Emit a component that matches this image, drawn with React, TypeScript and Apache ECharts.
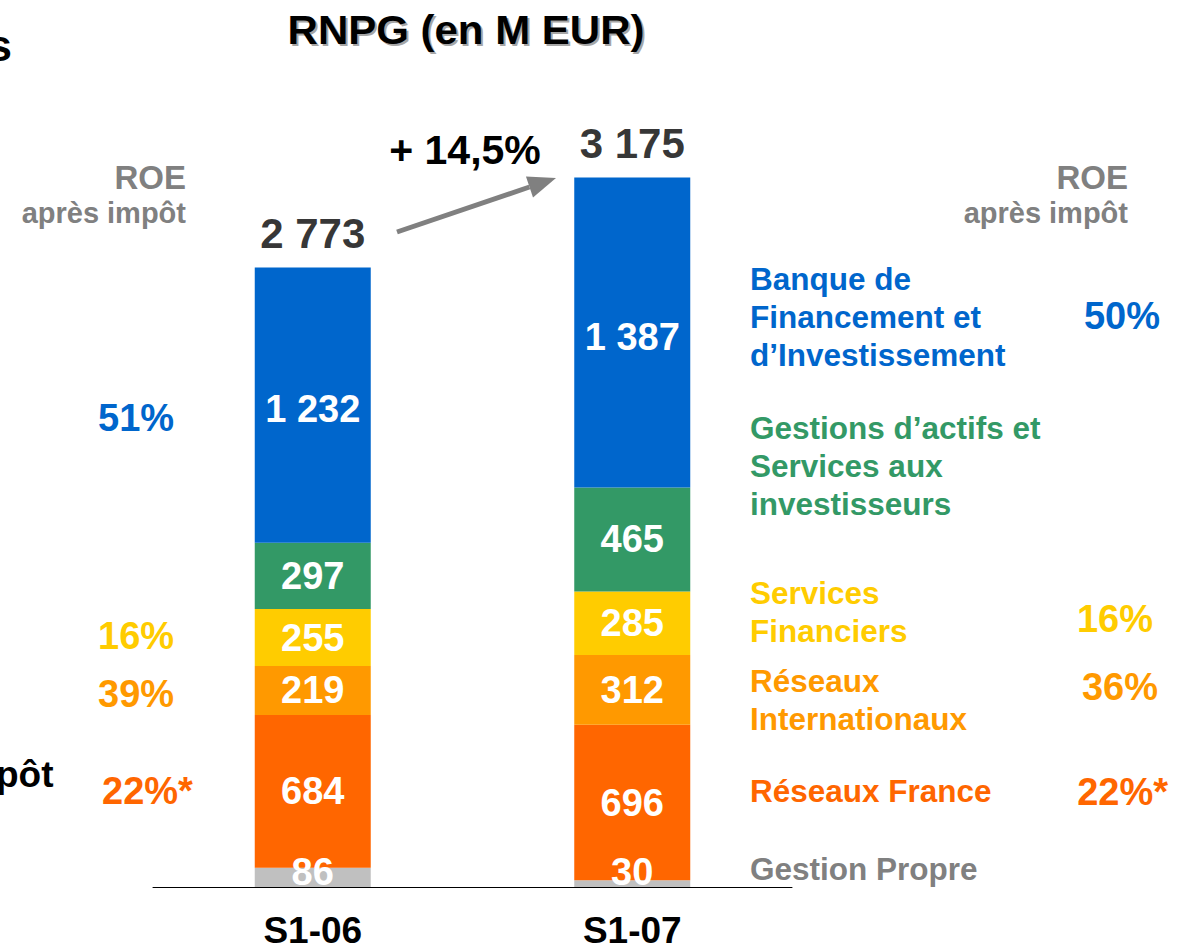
import React, { useEffect, useRef } from "react";
import * as echarts from "echarts";

const categories = ["S1-06", "S1-07"];
const gestionPropre = [86, 30];
const reseauxFrance = [684, 696];
const reseauxInternationaux = [219, 312];
const servicesFinanciers = [255, 285];
const gestionsActifs = [297, 465];
const banqueFinancement = [1232, 1387];
const roeLeft = ["51%", "16%", "39%", "22%*"];
const roeRight = ["50%", "16%", "36%", "22%*"];
const growthLabel = "+ 14,5%";

const FONT = "Liberation Sans";
const C_BLUE = "#0066CC";
const C_GREEN = "#339966";
const C_YELLOW = "#FFCC00";
const C_ORANGE = "#FF9900";
const C_DORANGE = "#FF6600";
const C_GRAY = "#C0C0C0";
const C_TXTGRAY = "#808080";

function txt(text: string, x: number, y: number, size: number, fill: string, align = "left", extra: any = {}, el: any = {}) {
  return {
    type: "text",
    x,
    y,
    silent: true,
    ...el,
    style: {
      text,
      fill,
      fontSize: size,
      fontWeight: "bold",
      fontFamily: FONT,
      align,
      verticalAlign: "middle",
      ...extra,
    },
  };
}

const fmt = (v: number) => String(v).replace(/\B(?=(\d{3})+(?!\d))/g, " ");

export default function App() {
  const ref = useRef<HTMLDivElement>(null);
  useEffect(() => {
    if (!ref.current) return;
    const chart = echarts.init(ref.current, undefined, { renderer: "svg" });
    const totals = categories.map((_, i) =>
      gestionPropre[i] + reseauxFrance[i] + reseauxInternationaux[i] + servicesFinanciers[i] + gestionsActifs[i] + banqueFinancement[i]
    );
    const lbl = {
      show: true,
      color: "#fff",
      fontSize: 38,
      fontWeight: "bold",
      fontFamily: FONT,
      formatter: (p: any) => fmt(p.value),
    };
    const mk = (name: string, data: number[], color: string, label: any = lbl) => ({
      name,
      type: "bar",
      stack: "rnpg",
      data,
      barWidth: 116,
      itemStyle: { color },
      label,
    });

    // arrow geometry
    const ax0 = 397, ay0 = 232, tipX = 556, tipY = 178;
    const dx = tipX - ax0, dy = tipY - ay0;
    const len = Math.sqrt(dx * dx + dy * dy);
    const ux = dx / len, uy = dy / len;
    const nx = -uy, ny = ux;
    const hl = 28, hw = 11;
    const bx = tipX - hl * ux, by = tipY - hl * uy;

    chart.setOption({
      animation: false,
      backgroundColor: "#ffffff",
      grid: { left: 153, right: 393, top: 105, bottom: 61 },
      xAxis: {
        type: "category",
        data: categories,
        axisLine: { show: true, lineStyle: { color: "#000", width: 1 } },
        axisTick: { show: false },
        axisLabel: { color: "#000", fontSize: 37, fontWeight: "bold", fontFamily: FONT, margin: 25 },
      },
      yAxis: { type: "value", min: 0, max: 3500, show: false, splitLine: { show: false } },
      series: [
        mk("Gestion Propre", gestionPropre, C_GRAY, { ...lbl, position: "insideBottom", distance: 0, offset: [0, 4] }),
        mk("Réseaux France", reseauxFrance, C_DORANGE),
        mk("Réseaux Internationaux", reseauxInternationaux, C_ORANGE),
        mk("Services Financiers", servicesFinanciers, C_YELLOW),
        mk("Gestions d’actifs et Services aux investisseurs", gestionsActifs, C_GREEN),
        mk("Banque de Financement et d’Investissement", banqueFinancement, C_BLUE, { ...lbl, offset: [0, 4] }),
        {
          name: "Total",
          type: "scatter",
          data: totals,
          symbolSize: 2,
          itemStyle: { color: "rgba(0,0,0,0)" },
          label: {
            show: true,
            position: "top",
            distance: 12,
            color: "#000000",
            fontSize: 42,
            fontWeight: "bold",
            fontFamily: FONT,
            formatter: (p: any) => fmt(p.value),
          },
        },
      ],
      graphic: [
        txt("RNPG (en M EUR)", 468, 32, 40, "#a6a6a6", "center", {}, { scaleX: 1.05 }),
        txt("RNPG (en M EUR)", 466, 30, 40, "#000", "center", {}, { scaleX: 1.05 }),
        txt("s", 12, 45, 44, "#000", "right"),
        txt("pôt", -4, 774, 37, "#000", "left"),
        txt("ROE", 186, 177, 33, C_TXTGRAY, "right"),
        txt("après impôt", 186, 213, 29, C_TXTGRAY, "right"),
        txt("ROE", 1128, 177, 33, C_TXTGRAY, "right"),
        txt("après impôt", 1128, 213, 29, C_TXTGRAY, "right"),
        txt(growthLabel, 465, 150, 41, "#000", "center"),
        {
          type: "line",
          silent: true,
          shape: { x1: ax0, y1: ay0, x2: bx, y2: by },
          style: { stroke: C_TXTGRAY, lineWidth: 5 },
        },
        {
          type: "polygon",
          silent: true,
          shape: {
            points: [
              [tipX, tipY],
              [bx + hw * nx, by + hw * ny],
              [bx - hw * nx, by - hw * ny],
            ],
          },
          style: { fill: C_TXTGRAY },
        },
        // left ROE values
        txt(roeLeft[0], 98, 418, 38, C_BLUE),
        txt(roeLeft[1], 98, 636, 38, C_YELLOW),
        txt(roeLeft[2], 98, 694, 38, C_ORANGE),
        txt(roeLeft[3], 102, 791, 38, C_DORANGE),
        // right ROE values
        txt(roeRight[0], 1160, 316, 38, C_BLUE, "right"),
        txt(roeRight[1], 1153, 619, 38, C_YELLOW, "right"),
        txt(roeRight[2], 1158, 687, 38, C_ORANGE, "right"),
        txt(roeRight[3], 1168, 792, 38, C_DORANGE, "right"),
        // legend labels
        txt("Banque de\nFinancement et\nd’Investissement", 750, 317, 31.5, C_BLUE, "left", { lineHeight: 38 }),
        txt("Gestions d’actifs et\nServices aux\ninvestisseurs", 750, 466, 31.5, C_GREEN, "left", { lineHeight: 38 }),
        txt("Services\nFinanciers", 750, 612, 31.5, C_YELLOW, "left", { lineHeight: 38 }),
        txt("Réseaux\nInternationaux", 750, 700, 31.5, C_ORANGE, "left", { lineHeight: 38 }),
        txt("Réseaux France", 750, 791, 31.5, C_DORANGE, "left"),
        txt("Gestion Propre", 750, 869, 31.5, C_TXTGRAY, "left"),
      ],
    });
    return () => chart.dispose();
  }, []);
  return <div ref={ref} style={{ position: "fixed", left: 0, top: 0, width: 1185, height: 949 }} />;
}
